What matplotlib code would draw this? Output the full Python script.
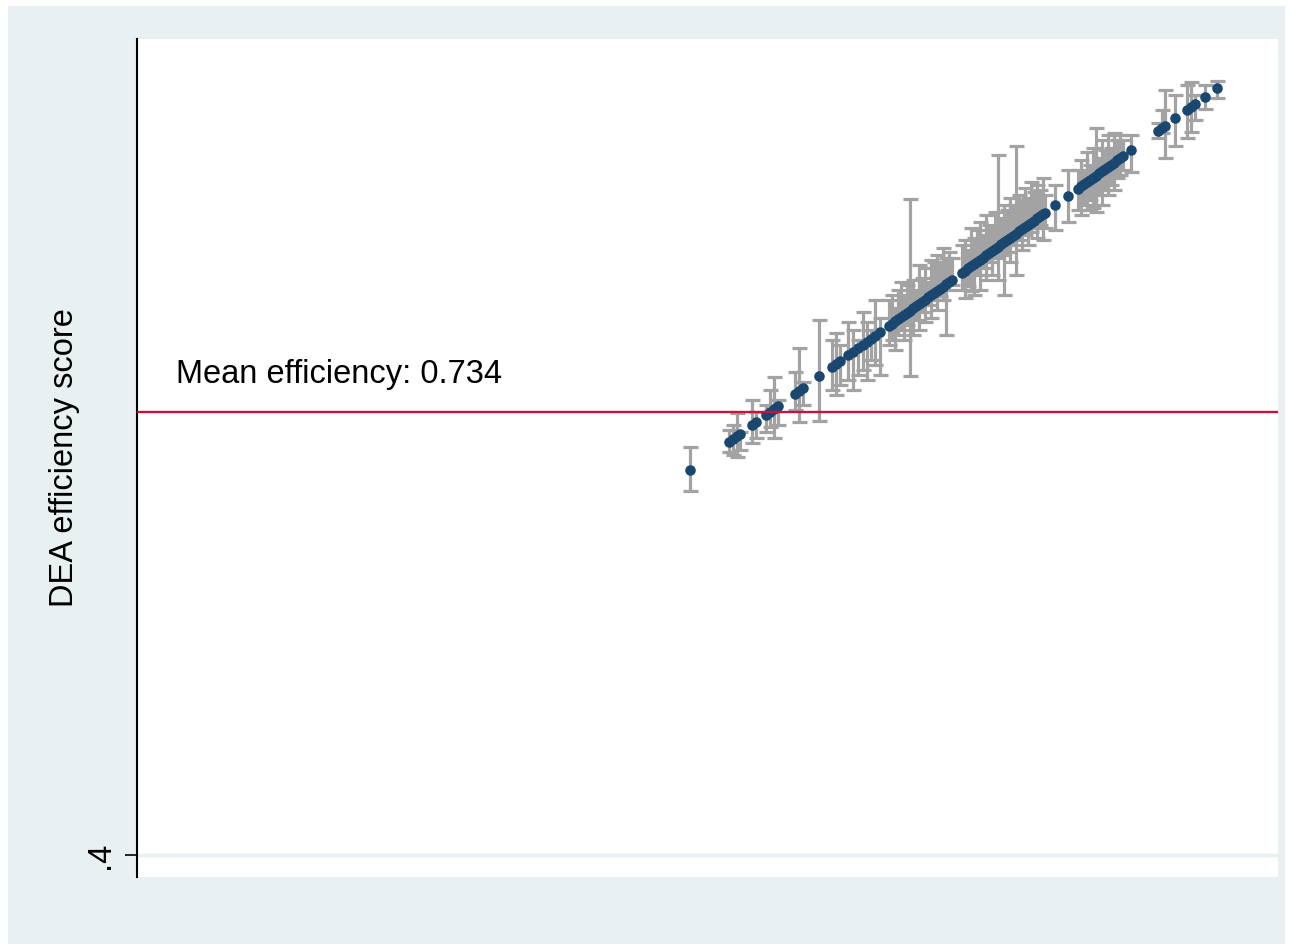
import matplotlib
matplotlib.use("Agg")
import matplotlib.pyplot as plt
from matplotlib.patches import Rectangle
import numpy as np

plt.rcParams['font.family'] = ['Liberation Sans', 'DejaVu Sans']

# DEA efficiency scores (sorted) with bootstrap confidence bounds
score = [0.6903, 0.7116, 0.7138, 0.7160, 0.7176, 0.7242, 0.7264, 0.7318, 0.7340, 0.7362,
         0.7384, 0.7477, 0.7499, 0.7521, 0.7608, 0.7679, 0.7701, 0.7723, 0.7766, 0.7794,
         0.7821, 0.7848, 0.7870, 0.7892, 0.7914, 0.7941, 0.7991, 0.8007, 0.8023, 0.8040,
         0.8056, 0.8073, 0.8089, 0.8105, 0.8122, 0.8138, 0.8155, 0.8171, 0.8187, 0.8204,
         0.8220, 0.8237, 0.8253, 0.8269, 0.8286, 0.8302, 0.8319, 0.8335, 0.8389, 0.8406,
         0.8422, 0.8439, 0.8455, 0.8471, 0.8488, 0.8504, 0.8521, 0.8537, 0.8553, 0.8570,
         0.8586, 0.8603, 0.8619, 0.8635, 0.8652, 0.8668, 0.8685, 0.8701, 0.8717, 0.8734,
         0.8750, 0.8767, 0.8783, 0.8799, 0.8816, 0.8832, 0.8843, 0.8898, 0.8969, 0.9024,
         0.9040, 0.9056, 0.9073, 0.9089, 0.9106, 0.9122, 0.9138, 0.9155, 0.9171, 0.9188,
         0.9204, 0.9220, 0.9237, 0.9253, 0.9270, 0.9313, 0.9461, 0.9483, 0.9499, 0.9553,
         0.9619, 0.9641, 0.9663, 0.9717, 0.9783]
ci_hi = [0.7076, 0.7204, 0.7242, 0.7332, 0.7189, 0.7430, 0.7340, 0.7393, 0.7506, 0.7604,
         0.7430, 0.7642, 0.7823, 0.7566, 0.8034, 0.7883, 0.7936, 0.7845, 0.8019, 0.7958,
         0.7883, 0.8094, 0.8019, 0.7958, 0.8184, 0.8049, 0.8184, 0.8222, 0.8124, 0.8260,
         0.8320, 0.8222, 0.8297, 0.8946, 0.8335, 0.8260, 0.8448, 0.8350, 0.8426, 0.8320,
         0.8486, 0.8471, 0.8524, 0.8471, 0.8577, 0.8501, 0.8546, 0.8501, 0.8599, 0.8637,
         0.8561, 0.8727, 0.8652, 0.8712, 0.8773, 0.8675, 0.8825, 0.8750, 0.8727, 0.8848,
         0.9278, 0.8803, 0.8901, 0.8863, 0.8954, 0.8901, 0.9346, 0.8976, 0.8939, 0.9029,
         0.8954, 0.9074, 0.8999, 0.9051, 0.9014, 0.9104, 0.8976, 0.9051, 0.9164, 0.9164,
         0.9240, 0.9149, 0.9300, 0.9202, 0.9331, 0.9481, 0.9255, 0.9391, 0.9315, 0.9429,
         0.9331, 0.9444, 0.9391, 0.9429, 0.9391, 0.9429, 0.9520, 0.9617, 0.9768, 0.9730,
         0.9806, 0.9829, 0.9730, 0.9806, 0.9836]
ci_lo = [0.6744, 0.7038, 0.7016, 0.7001, 0.7053, 0.7106, 0.7144, 0.7189, 0.7227, 0.7144,
         0.7242, 0.7355, 0.7265, 0.7393, 0.7272, 0.7506, 0.7468, 0.7543, 0.7581, 0.7506,
         0.7619, 0.7657, 0.7581, 0.7732, 0.7694, 0.7619, 0.7845, 0.7883, 0.7807, 0.7921,
         0.7958, 0.7883, 0.7996, 0.7611, 0.7921, 0.8034, 0.7958, 0.8094, 0.8019, 0.8147,
         0.8049, 0.8184, 0.8109, 0.8215, 0.8184, 0.7921, 0.8260, 0.8297, 0.8260, 0.8200,
         0.8290, 0.8252, 0.8222, 0.8373, 0.8260, 0.8426, 0.8335, 0.8471, 0.8373, 0.8501,
         0.8335, 0.8524, 0.8222, 0.8546, 0.8471, 0.8599, 0.8373, 0.8637, 0.8561, 0.8675,
         0.8599, 0.8697, 0.8727, 0.8652, 0.8750, 0.8637, 0.8727, 0.8712, 0.8773, 0.8863,
         0.8825, 0.8901, 0.8863, 0.8939, 0.8878, 0.8848, 0.8976, 0.8901, 0.9014, 0.8976,
         0.9051, 0.9014, 0.9104, 0.9127, 0.9164, 0.9149, 0.9407, 0.9445, 0.9255, 0.9346,
         0.9407, 0.9452, 0.9542, 0.9625, 0.9708]
mean_eff = 0.734

navy = '#1a476f'
bar_grey = '#a3a3a3'
region = '#e9f0f2'

s = np.array(score)
err = [s - np.array(ci_lo), np.array(ci_hi) - s]

fig = plt.figure(figsize=(12.93, 9.5), dpi=100)
fig.patch.set_facecolor('white')
fig.patches.append(Rectangle((8 / 1293, 6 / 950), 1277 / 1293, 938 / 950,
                             transform=fig.transFigure, facecolor=region,
                             edgecolor='none', zorder=-10))

ax = fig.add_axes([137 / 1293, 1 - 877 / 950, 1141 / 1293, 838 / 950])
ax.set_facecolor('white')

ax.errorbar(s, s, yerr=err, fmt='none', ecolor=bar_grey, elinewidth=2.3,
            capsize=5.4, capthick=2.3, zorder=2)
ax.plot(s, s, 'o', color=navy, markersize=7.6, markeredgewidth=0, zorder=3)

ax.axhline(mean_eff, color='#c8143c', linewidth=1.7, zorder=4)
ax.axhline(0.4, color=region, linewidth=2.5, zorder=1)
ax.text(0.4094, 0.7559, f"Mean efficiency: {mean_eff}", fontsize=23.5,
        va='baseline', ha='left', color='black')

ax.set_xlim(0.3881, 1.0116)
ax.set_ylim(0.3834, 1.0152)

ax.set_yticks([0.4])
ax.set_yticklabels(['.4'], rotation=90, va='center')
ax.tick_params(axis='y', labelsize=23.5, length=9, width=1.2, pad=6)
ax.set_xticks([])

for side in ['top', 'right', 'bottom']:
    ax.spines[side].set_visible(False)
ax.spines['left'].set_linewidth(1.5)

ax.set_ylabel("DEA efficiency score", fontsize=23.5)
ax.yaxis.set_label_coords(-0.05, 0.5)

plt.savefig("out.png", dpi=100, facecolor=fig.get_facecolor())
plt.close()
